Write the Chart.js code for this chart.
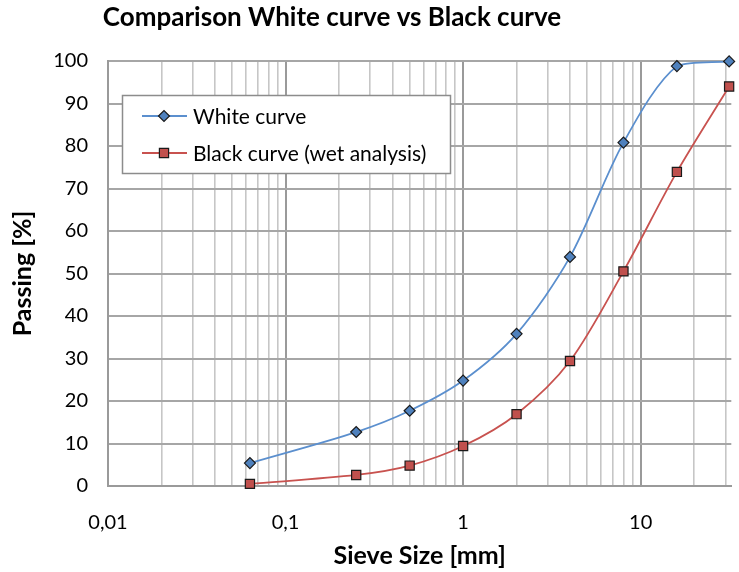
<!DOCTYPE html>
<html>
<head>
<meta charset="utf-8">
<script src="https://cdn.jsdelivr.net/npm/chart.js@4.4.1/dist/chart.umd.min.js"></script>
<style>
  html, body { margin: 0; padding: 0; background: #fff; }
  #wrap { width: 739px; height: 572px; }
</style>
</head>
<body>
<div id="wrap"><canvas id="myChart" width="739" height="572"></canvas></div>
<script>
  // sieve sizes in mm
  var sieveSizes = [0.063, 0.25, 0.5, 1, 2, 4, 8, 16, 31.5];
  var whitePassing = [5.4, 12.7, 17.7, 24.8, 35.8, 53.9, 80.8, 98.8, 99.9];
  var blackPassing = [0.5, 2.6, 4.8, 9.4, 16.9, 29.4, 50.5, 73.9, 94];
  var seriesNames = ['White curve', 'Black curve (wet analysis)'];
  var chartTitle = 'Comparison White curve vs Black curve';
  var xTickLabels = {0.01: '0,01', 0.1: '0,1', 1: '1', 10: '10'};
  var yTicks = [0, 10, 20, 30, 40, 50, 60, 70, 80, 90, 100];

  var fontFam = 'Lato, "Open Sans", sans-serif';

  function toPoints(xs, ys) {
    return xs.map(function(x, i) { return {x: x, y: ys[i]}; });
  }

  // title + legend drawn by hand, placed like the excel one
  var boxLegend = {
    id: 'boxLegend',
    afterDraw: function(chart) {
      var ctx = chart.ctx;
      ctx.save();
      ctx.fillStyle = '#000';
      ctx.font = 'bold 26px ' + fontFam;
      ctx.textAlign = 'center';
      ctx.textBaseline = 'middle';
      ctx.fillText(chartTitle, 332, 18);

      var x0 = 122, y0 = 95, w = 328, h = 78;
      ctx.fillStyle = '#fff';
      ctx.fillRect(x0, y0, w, h);
      ctx.strokeStyle = '#8c8c8c';
      ctx.lineWidth = 1.5;
      ctx.strokeRect(x0 + 0.5, y0 + 0.5, w, h);
      chart.data.datasets.forEach(function(ds, i) {
        var y = 116 + i * 37;
        ctx.strokeStyle = ds.borderColor;
        ctx.lineWidth = ds.borderWidth;
        ctx.beginPath();
        ctx.moveTo(142, y);
        ctx.lineTo(187, y);
        ctx.stroke();
        ctx.fillStyle = ds.pointBackgroundColor;
        ctx.strokeStyle = ds.pointBorderColor;
        ctx.lineWidth = ds.pointBorderWidth;
        Chart.helpers.drawPoint(ctx, {pointStyle: ds.pointStyle, radius: ds.pointRadius, rotation: 0, borderWidth: ds.pointBorderWidth}, 164, y);
        ctx.fillStyle = '#000';
        ctx.font = '21px ' + fontFam;
        ctx.textBaseline = 'middle';
        ctx.textAlign = 'left';
        ctx.fillText(ds.label, 193, y + 1);
      });
      ctx.restore();
    }
  };

  var ctx = document.getElementById('myChart').getContext('2d');
  var myChart = new Chart(ctx, {
    type: 'line',
    data: {
      datasets: [{
        label: seriesNames[0],
        data: toPoints(sieveSizes, whitePassing),
        borderColor: '#5b8fce',
        borderWidth: 1.8,
        pointStyle: 'rectRot',
        pointRadius: 5.5,
        pointBackgroundColor: '#4f81bd',
        pointBorderColor: '#1a1a1a',
        pointBorderWidth: 1.2,
        tension: 0.3,
        clip: false
      }, {
        label: seriesNames[1],
        data: toPoints(sieveSizes, blackPassing),
        borderColor: '#c8524f',
        borderWidth: 1.8,
        pointStyle: 'rect',
        pointRadius: 6.5,
        pointBackgroundColor: '#c0504d',
        pointBorderColor: '#1a1a1a',
        pointBorderWidth: 1.2,
        tension: 0.3,
        clip: false
      }]
    },
    options: {
      responsive: false,
      animation: false,
      layout: { padding: { left: 0, right: 0, top: 61, bottom: 0 } },
      plugins: {
        legend: { display: false },
        tooltip: { enabled: false },
        title: { display: false }
      },
      scales: {
        x: {
          type: 'logarithmic',
          min: 0.01,
          max: 32.4,
          afterBuildTicks: function(scale) {
            var t = [];
            [0.01, 0.1, 1, 10].forEach(function(d) {
              for (var k = 1; k <= 9; k++) {
                var v = +(d * k).toPrecision(3);
                if (v <= 32.4) t.push({value: v});
              }
            });
            scale.ticks = t;
          },
          afterFit: function(scale) {
            scale.height = 86;
            scale.paddingLeft = 0;
            scale.paddingRight = 0;
          },
          ticks: {
            autoSkip: false,
            maxRotation: 0,
            padding: 25,
            color: '#000',
            font: { family: fontFam, size: 20 },
            callback: function(v) { return xTickLabels[v] || ''; }
          },
          grid: {
            drawTicks: false,
            lineWidth: function(c) { return xTickLabels[c.tick.value] ? 2 : 1.6; },
            color: function(c) { return xTickLabels[c.tick.value] ? '#9a9a9a' : '#c6c6c6'; }
          },
          border: { color: '#9a9a9a', width: 2 },
          title: {
            display: true,
            text: 'Sieve Size [mm]',
            color: '#000',
            font: { family: fontFam, size: 25, weight: 'bold' },
            padding: { top: 0, bottom: 1 }
          }
        },
        y: {
          min: 0,
          max: 100,
          afterBuildTicks: function(scale) {
            scale.ticks = yTicks.map(function(v) { return {value: v}; });
          },
          afterFit: function(scale) { scale.width = 108; },
          ticks: {
            padding: 20,
            color: '#000',
            font: { family: fontFam, size: 20 }
          },
          grid: { drawTicks: false, color: '#a6a6a6', lineWidth: 2 },
          border: { color: '#9a9a9a', width: 2 },
          title: {
            display: true,
            text: 'Passing [%]',
            color: '#000',
            font: { family: fontFam, size: 25, weight: 'bold' },
            padding: { top: 8, bottom: 0 }
          }
        }
      }
    },
    plugins: [boxLegend]
  });
</script>
</body>
</html>
